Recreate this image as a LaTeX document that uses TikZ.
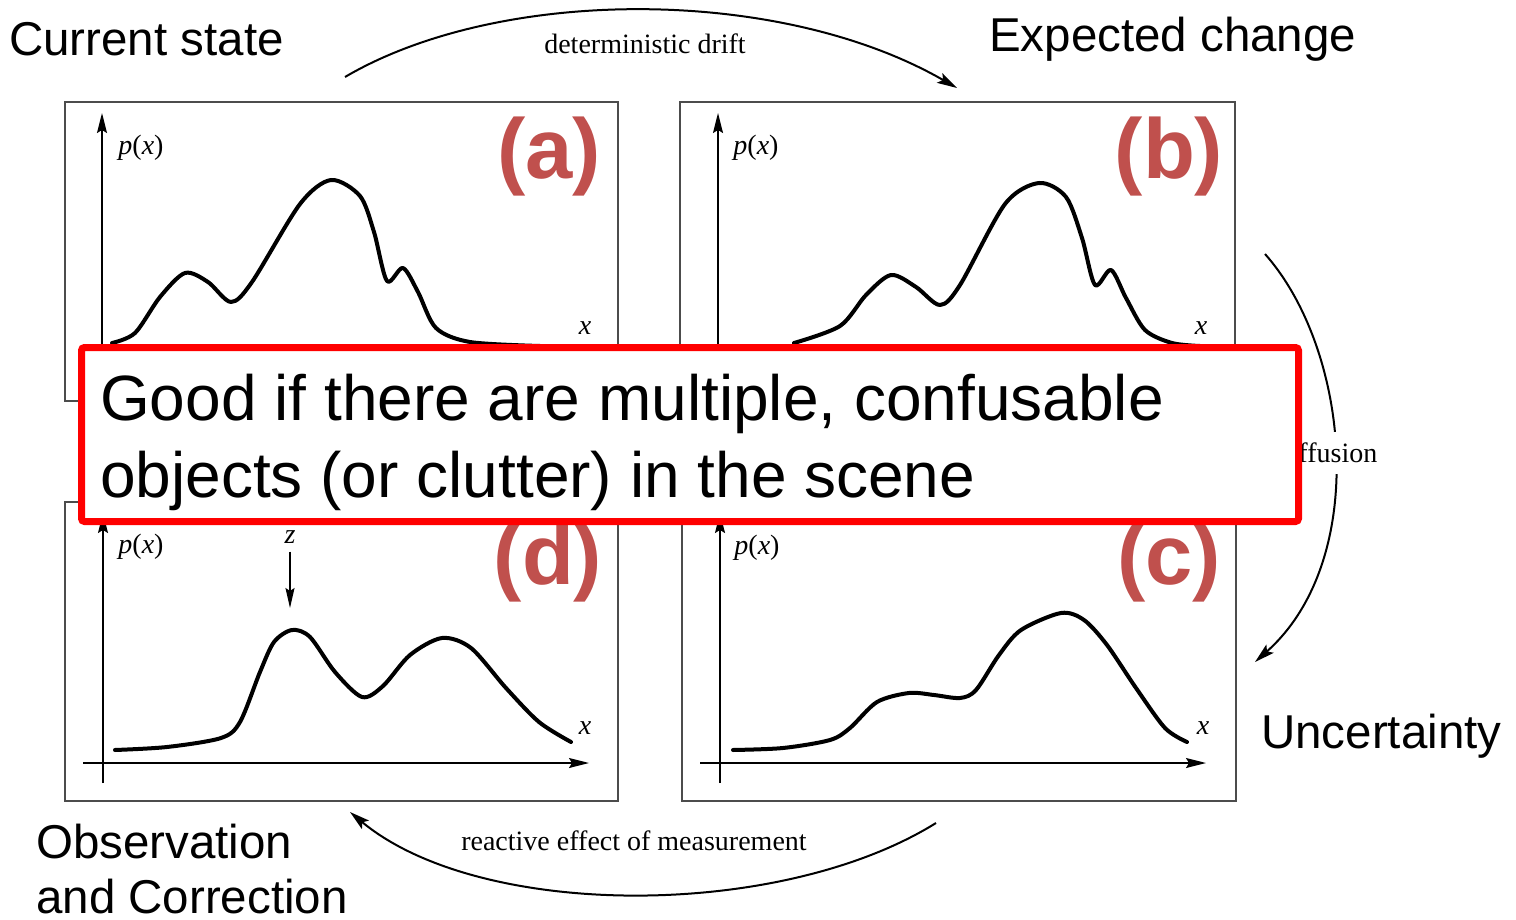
\documentclass[tikz,border=0pt]{standalone}
\usepackage{fontspec}
\setmainfont{Liberation Serif}
\newfontfamily\arialfont{Liberation Sans}
\usetikzlibrary{arrows.meta}
\definecolor{tagred}{HTML}{C0504D}
\definecolor{notered}{HTML}{FF0000}

\begin{document}
\begin{tikzpicture}[x=1pt, y=-1pt,
    panel/.style={draw=black!70, line width=2pt, minimum height=299pt, anchor=north west, inner sep=0pt},
    axis/.style={line width=1.5pt, -{Stealth[length=20pt, width=10pt, inset=3pt]}},
    pdf/.style={line width=4pt, line join=round, line cap=round},
    flow/.style={line width=2pt, -{Stealth[length=20pt, width=11pt, inset=4pt]}},
    flowlbl/.style={font=\fontsize{28}{32}\selectfont, inner sep=0pt},
    varlbl/.style={font=\fontsize{28}{32}\selectfont, inner sep=0pt},
    tag/.style={font=\arialfont\bfseries\fontsize{85}{100}\selectfont, text=tagred, anchor=base, inner sep=0pt},
    state/.style={font=\arialfont\fontsize{47.5}{55}\selectfont, anchor=base west, align=left, inner sep=0pt},
    note/.style={draw=notered, line width=7pt, fill=white, rounded corners=3pt, inner sep=0pt}
]
\useasboundingbox (0,0) rectangle (1516,920);

% the four panels
\node[panel, minimum width=553pt] (pa) at (64,101) {};
\node[panel, minimum width=555pt] (pb) at (679,101) {};
\node[panel, minimum width=554pt] (pc) at (681,501) {};
\node[panel, minimum width=553pt] (pd) at (64,501) {};

% axes
\draw[axis] (102,383) -- (102,113);
\draw[axis] (83,364) -- (589,364);
\draw[axis] (718,383) -- (718,113);
\draw[axis] (699,364) -- (1205,364);
\draw[axis] (103,783) -- (103,513);
\draw[axis] (83,763) -- (589,763);
\draw[axis] (720,783) -- (720,513);
\draw[axis] (700,763) -- (1206,763);

% densities
\draw[pdf] plot[smooth, tension=0.5] coordinates {(112,343) (135,333) (160,297) (185,273) (208,282) (231,302) (252,282) (300,204) (331,180) (360,196) (374,232) (387,281) (403,268) (418,292) (436,328) (470,342) (540,346)};
\draw[pdf] plot[smooth, tension=0.5] coordinates {(794,343) (840,326) (866,295) (891,275) (916,287) (940,305) (960,285) (1005,204) (1039,183) (1066,197) (1082,238) (1095,285) (1111,270) (1126,298) (1145,330) (1172,343) (1200,346)};
\draw[pdf] plot[smooth, tension=0.5] coordinates {(115,750) (167,747) (221,738) (240,722) (260,672) (274,642) (292,630) (310,637) (335,672) (362,697) (383,686) (410,655) (442,638) (471,648) (506,688) (539,722) (571,742)};
\draw[pdf] plot[smooth, tension=0.5] coordinates {(733,750) (783,748) (830,740) (850,728) (877,702) (909,693) (934,695) (960,698) (976,690) (999,655) (1021,630) (1061,613) (1084,620) (1107,645) (1136,688) (1165,728) (1187,742)};

% axis labels
\node[varlbl] (pya) at (141,148) {\textit{p}(\textit{x})};
\node[varlbl] (pyb) at (756,148) {\textit{p}(\textit{x})};
\node[varlbl] (pyd) at (141,547) {\textit{p}(\textit{x})};
\node[varlbl] (pyc) at (757,548) {\textit{p}(\textit{x})};
\node[varlbl] (xa) at (585,328) {\textit{x}};
\node[varlbl] (xb) at (1201,328) {\textit{x}};
\node[varlbl] (xd) at (585,728) {\textit{x}};
\node[varlbl] (xc) at (1203,728) {\textit{x}};
\node[varlbl] (zd) at (290,537) {\textit{z}};
\coordinate (zhit) at (290,608);
\draw[line width=1.5pt, -{Stealth[length=20pt, width=9pt, inset=3pt]}] (zd.south) ++(0,8) -- (zhit);

% panel tags
\node[tag] (taga) at (549,179) {(a)};
\node[tag] (tagb) at (1169,179) {(b)};
\node[tag] (tagd) at (548,584) {(d)};
\node[tag] (tagc) at (1169,584) {(c)};

% stage names
\node[state] (cur) at (9,56) {Current state};
\node[state] (exp) at (989,52) {Expected change};
\node[state] (unc) at (1261,748) {Uncertainty};
\node[state] (obs) at (36,913) {Observation\\and Correction};

% cycle arrows
\coordinate (driftA) at (345,77);
\coordinate (driftB) at (957,88);
\coordinate (diffA) at (1265,254);
\coordinate (diffB) at (1255,662);
\coordinate (measA) at (936,823);
\coordinate (measB) at (350,812);
\draw[flow] (driftA) .. controls (500,-14) and (780,-14) .. (driftB);
\node[flowlbl, anchor=base] (driftlbl) at (645,54) {deterministic drift};
\draw[flow] (diffA) .. controls (1350,350) and (1370,560) .. (diffB)
    node[flowlbl, pos=0.5, fill=white, minimum height=42pt, xshift=-8pt, yshift=3pt] (difflbl) {diffusion};
\draw[flow] (measA) .. controls (780,920) and (480,920) .. (measB);
\node[flowlbl, anchor=base] (measlbl) at (634,850) {reactive effect of measurement};

% overlay note
\node[note, minimum width=1217pt, minimum height=174pt] (notebox) at (690,434.5) {};
\node[font=\arialfont\fontsize{64}{77}\selectfont, anchor=base west, align=left, inner sep=0pt] (notetxt) at (100,497) {Good if there are multiple, confusable\\objects (or clutter) in the scene};
\end{tikzpicture}
\end{document}
